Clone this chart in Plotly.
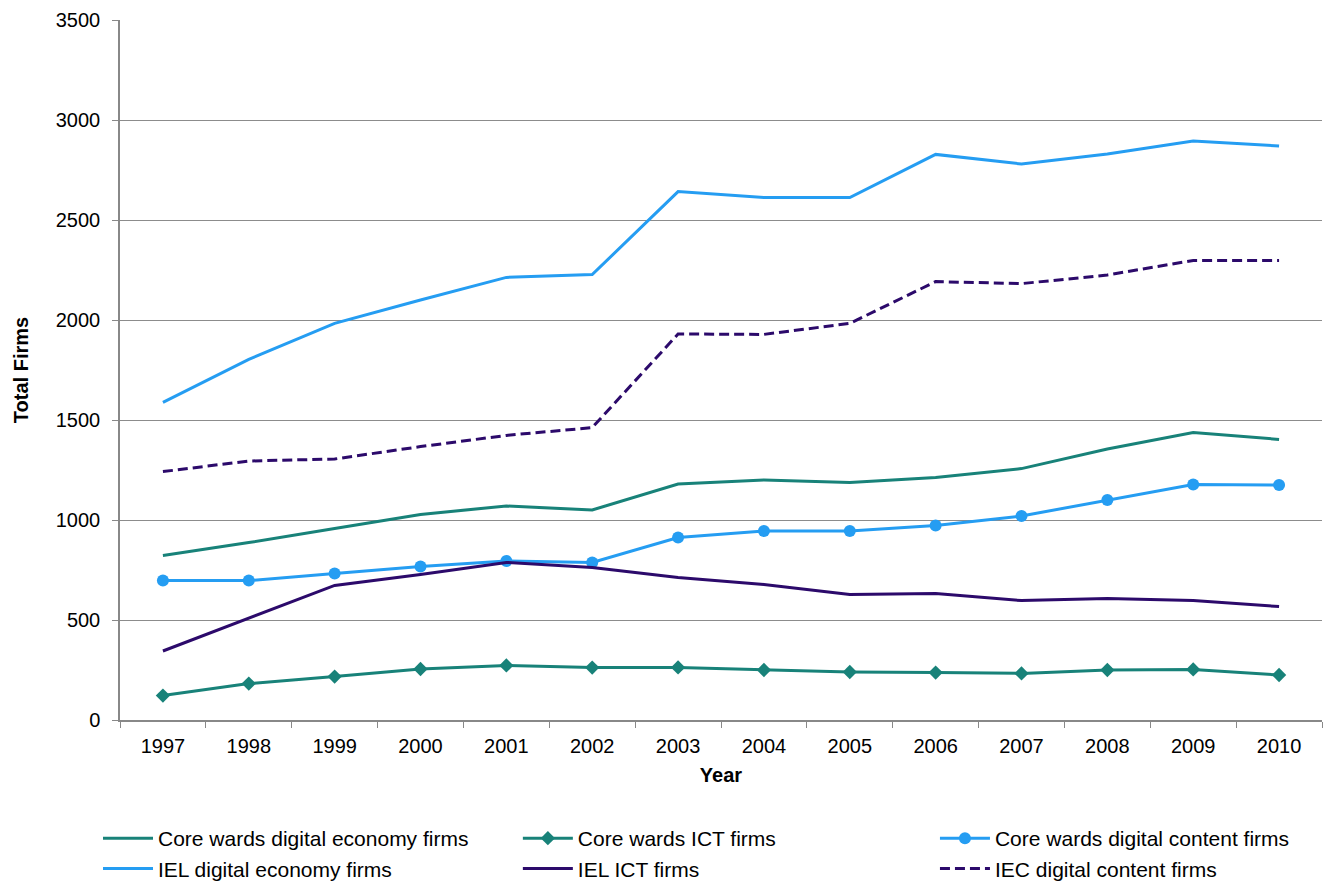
import plotly.graph_objects as go

years = ["1997", "1998", "1999", "2000", "2001", "2002", "2003",
         "2004", "2005", "2006", "2007", "2008", "2009", "2010"]

core_digital_economy = [822, 887, 958, 1028, 1070, 1050, 1180, 1200, 1187, 1213, 1257, 1355, 1437, 1403]
core_ict = [122, 182, 217, 255, 273, 262, 263, 250, 240, 237, 233, 250, 253, 225]
core_digital_content = [697, 697, 733, 768, 795, 788, 912, 945, 945, 972, 1020, 1100, 1178, 1175]
iel_digital_economy = [1588, 1803, 1983, 2100, 2213, 2227, 2642, 2612, 2612, 2828, 2780, 2830, 2895, 2870]
iel_ict = [345, 508, 673, 728, 788, 763, 712, 678, 628, 633, 597, 607, 597, 567]
iec_digital_content = [1242, 1295, 1305, 1367, 1423, 1462, 1930, 1928, 1983, 2192, 2182, 2225, 2298, 2298]

TEAL = "#188279"
BLUE = "#259DF2"
PURPLE = "#2C0A6B"
FONT = "Arial, 'Liberation Sans', sans-serif"

fig = go.Figure()
fig.add_trace(go.Scatter(x=years, y=core_digital_economy, name="Core wards digital economy firms",
                         mode="lines", line=dict(color=TEAL, width=3), legend="legend"))
fig.add_trace(go.Scatter(x=years, y=core_ict, name="Core wards ICT firms",
                         mode="lines+markers", line=dict(color=TEAL, width=3),
                         marker=dict(symbol="diamond", size=11, color=TEAL), legend="legend2"))
fig.add_trace(go.Scatter(x=years, y=core_digital_content, name="Core wards digital content firms",
                         mode="lines+markers", line=dict(color=BLUE, width=3),
                         marker=dict(symbol="circle", size=12, color=BLUE), legend="legend3"))
fig.add_trace(go.Scatter(x=years, y=iel_digital_economy, name="IEL digital economy firms",
                         mode="lines", line=dict(color=BLUE, width=3), legend="legend"))
fig.add_trace(go.Scatter(x=years, y=iel_ict, name="IEL ICT firms",
                         mode="lines", line=dict(color=PURPLE, width=3), legend="legend2"))
fig.add_trace(go.Scatter(x=years, y=iec_digital_content, name="IEC digital content firms",
                         mode="lines", line=dict(color=PURPLE, width=3, dash="10px,5px"), legend="legend3"))

def leg(x):
    return dict(orientation="v", x=x, xanchor="left", y=-0.14, yanchor="top",
                font=dict(family=FONT, size=21, color="black"),
                itemwidth=50, traceorder="normal", bgcolor="rgba(0,0,0,0)",
                tracegroupgap=0)

fig.update_layout(
    width=1324, height=881,
    margin=dict(l=120, r=2, t=20, b=161, autoexpand=False),
    paper_bgcolor="white", plot_bgcolor="white",
    font=dict(family=FONT, size=20, color="black"),
    showlegend=True,
    legend=leg(-0.0183),
    legend2=leg(0.331),
    legend3=leg(0.678),
    xaxis=dict(type="category", range=[-0.5, 13.5], showgrid=False,
               showline=True, linecolor="#888888", linewidth=1.5,
               ticks="outside", tickson="boundaries", ticklen=6, tickcolor="#888888",
               tickfont=dict(size=20), ticklabelstandoff=7,
               title=dict(text="<b>Year</b>", font=dict(size=20), standoff=12)),
    yaxis=dict(range=[0, 3500], dtick=500, showgrid=True, gridcolor="#8c8c8c", gridwidth=1,
               showline=True, linecolor="#888888", linewidth=1.5,
               ticks="outside", ticklen=6, tickcolor="#888888",
               tickfont=dict(size=20), zeroline=False, ticklabelstandoff=8,
               title=dict(text="<b>Total Firms</b>", font=dict(size=20), standoff=22)),
)

fig.write_html("out.html")
